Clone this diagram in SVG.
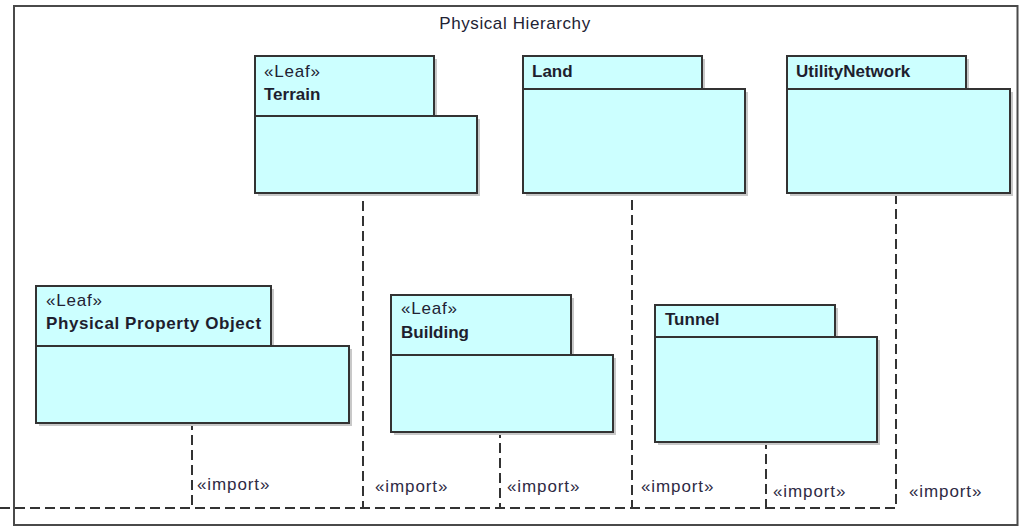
<svg xmlns="http://www.w3.org/2000/svg" width="1019" height="526" viewBox="0 0 1019 526">
  <style>
    .frame { fill: #ffffff; stroke: #4a4a4a; stroke-width: 2; }
    .shadow { fill: #c8c8c8; }
    .pkg { fill: #ccffff; stroke: #333333; stroke-width: 2; }
    .title { font-family: "Liberation Sans", Arial, sans-serif; font-size: 17px; fill: #222233; letter-spacing: 0.6px; }
    .stereo { font-family: "Liberation Sans", Arial, sans-serif; font-size: 17px; fill: #222233; letter-spacing: 0.8px; }
    .name { font-family: "Liberation Sans", Arial, sans-serif; font-size: 17px; font-weight: bold; fill: #1e1e2e; }
    .dep { fill: none; stroke: #333333; stroke-width: 2; stroke-dasharray: 10 5; }
    .deplabel { font-family: "Liberation Sans", Arial, sans-serif; font-size: 17px; fill: #2e2a44; letter-spacing: 0.9px; }
  </style>

  <!-- diagram frame and its name -->
  <rect class="frame" x="14" y="6" width="1003.5" height="519"/>
  <text class="title" x="515" y="29" text-anchor="middle">Physical Hierarchy</text>

  <!-- import dependencies; all run along the bottom toward the package on the left.
       Whole-pixel coordinates keep the shared bottom run crisp where paths overlap. -->
  <g id="connectors">
    <path class="dep" d="M0 508 H192 V423"/>
    <path class="dep" d="M0 508 H363 V193"/>
    <path class="dep" d="M0 508 H500 V432"/>
    <path class="dep" d="M0 508 H632 V193"/>
    <path class="dep" d="M0 508 H766 V442"/>
    <path class="dep" d="M0 508 H896 V193"/>
    <text class="deplabel" x="197" y="490">«import»</text>
    <text class="deplabel" x="375" y="492">«import»</text>
    <text class="deplabel" x="507" y="492">«import»</text>
    <text class="deplabel" x="641" y="492">«import»</text>
    <text class="deplabel" x="773" y="497">«import»</text>
    <text class="deplabel" x="909" y="497">«import»</text>
  </g>

  <!-- packages: tab + body, each with an offset drop shadow -->
  <g id="terrain">
    <rect class="shadow" x="258" y="59" width="179" height="60"/>
    <rect class="shadow" x="258" y="119" width="222" height="77"/>
    <rect class="pkg" x="255" y="56" width="179" height="60"/>
    <rect class="pkg" x="255" y="116" width="222" height="77"/>
    <text class="stereo" x="264" y="77">«Leaf»</text>
    <text class="name" x="264" y="100">Terrain</text>
  </g>

  <g id="land">
    <rect class="shadow" x="526" y="59" width="179" height="33"/>
    <rect class="shadow" x="526" y="92" width="222" height="104"/>
    <rect class="pkg" x="523" y="56" width="179" height="33"/>
    <rect class="pkg" x="523" y="89" width="222" height="104"/>
    <text class="name" x="532" y="77">Land</text>
  </g>

  <g id="utility-network">
    <rect class="shadow" x="790" y="59" width="179" height="33"/>
    <rect class="shadow" x="790" y="92" width="223" height="104"/>
    <rect class="pkg" x="787" y="56" width="179" height="33"/>
    <rect class="pkg" x="787" y="89" width="223" height="104"/>
    <text class="name" x="796" y="77">UtilityNetwork</text>
  </g>

  <g id="physical-property-object">
    <rect class="shadow" x="39" y="289" width="235" height="60"/>
    <rect class="shadow" x="39" y="349" width="313" height="77"/>
    <rect class="pkg" x="36" y="286" width="235" height="60"/>
    <rect class="pkg" x="36" y="346" width="313" height="77"/>
    <text class="stereo" x="46" y="306">«Leaf»</text>
    <text class="name" x="46" y="329" letter-spacing="0.6">Physical Property Object</text>
  </g>

  <g id="building">
    <rect class="shadow" x="394" y="298" width="180" height="60"/>
    <rect class="shadow" x="394" y="358" width="222" height="77"/>
    <rect class="pkg" x="391" y="295" width="180" height="60"/>
    <rect class="pkg" x="391" y="355" width="222" height="77"/>
    <text class="stereo" x="401" y="314">«Leaf»</text>
    <text class="name" x="401" y="338">Building</text>
  </g>

  <g id="tunnel">
    <rect class="shadow" x="658" y="308" width="180" height="32"/>
    <rect class="shadow" x="658" y="340" width="222" height="105"/>
    <rect class="pkg" x="655" y="305" width="180" height="32"/>
    <rect class="pkg" x="655" y="337" width="222" height="105"/>
    <text class="name" x="665" y="325">Tunnel</text>
  </g>
</svg>
